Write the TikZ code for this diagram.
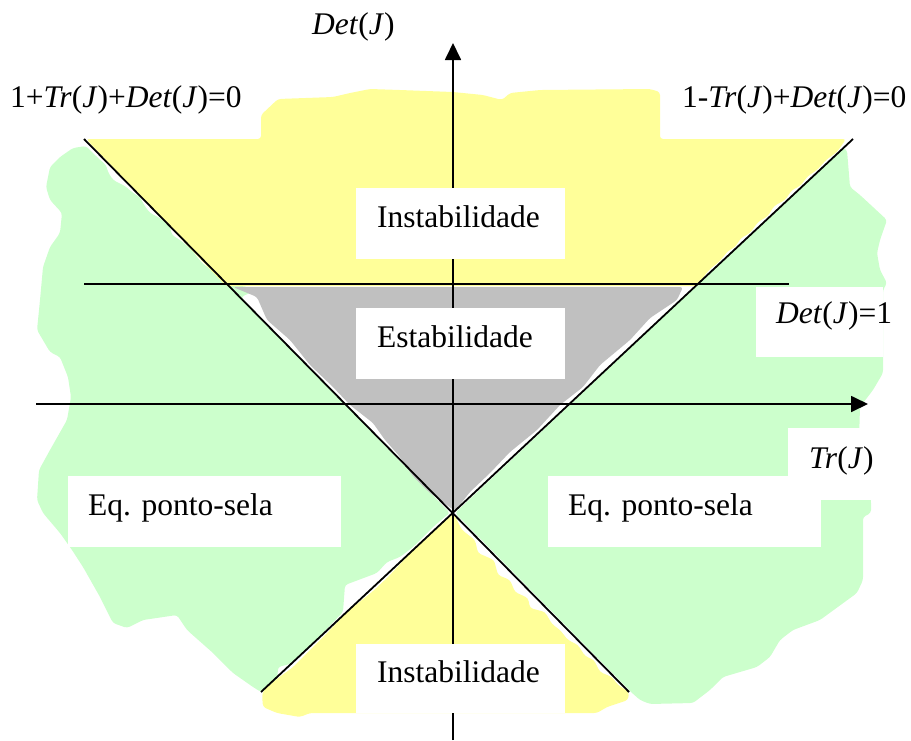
\documentclass[tikz,border=0pt]{standalone}
\usepackage{fontspec}
\setmainfont{Liberation Serif}
\usetikzlibrary{arrows.meta}
\definecolor{regYellow}{HTML}{FFFF99}
\definecolor{regGreen}{HTML}{CCFFCC}
\definecolor{regGrey}{HTML}{C0C0C0}

\begin{document}
\begin{tikzpicture}[x=1pt,y=-1pt,
  thinline/.style={line width=1.8pt},
  axisarrow/.style={line width=1.8pt,-{Triangle[length=17pt,width=16pt]}},
  whitebox/.style={fill=white,draw=none,anchor=north west,inner sep=0pt,outer sep=0pt},
  lbl/.style={font=\fontsize{31.5}{36}\selectfont,inner sep=0pt,anchor=base west},
  blob/.style={draw=none,rounded corners=3pt},
]
\useasboundingbox (0,0) rectangle (911,740);

% ---- stability regions (hand-painted fills) ----
% saddle region, left
\fill[regGreen,blob] (73,148) -- (86,146) -- (98,158) -- (106,165) -- (108,172) -- (113,180)
  -- (125,186) -- (133,193) -- (140,197) -- (144,205) -- (150,213) -- (160,218) -- (170,227)
  -- (172,235) -- (180,240) -- (192,250) -- (197,257) -- (203,264) -- (215,272) -- (222,279)
  -- (228,284) -- (248,287) -- (252,292) -- (241,297) -- (450,513) -- (447,515) -- (433,527)
  -- (413,547) -- (400,557) -- (387,562) -- (377,573) -- (345,585) -- (343,612) -- (316,640)
  -- (290,664) -- (278,667) -- (277,687) -- (261,692) -- (253,687) -- (233,673) -- (213,653)
  -- (187,630) -- (177,615) -- (143,620) -- (127,628) -- (113,623) -- (100,597) -- (83,567)
  -- (72,550) -- (60,533) -- (43,513) -- (37,500) -- (39,470) -- (50,450) -- (67,420)
  -- (71,397) -- (68,377) -- (60,357) -- (50,352) -- (37,330) -- (40,300) -- (43,267)
  -- (50,247) -- (60,233) -- (62,213) -- (50,200) -- (46,187) -- (50,167) -- (60,157) -- cycle;
% saddle region, right
\fill[regGreen,blob] (455,513) -- (843,148) -- (847,150) -- (850,187) -- (860,195) -- (887,220)
  -- (880,240) -- (877,253) -- (880,270) -- (887,283) -- (883,290) -- (883,373) -- (873,390)
  -- (860,407) -- (859,440) -- (871,500) -- (871,513) -- (863,517) -- (863,580) -- (857,593)
  -- (820,620) -- (793,630) -- (780,640) -- (770,657) -- (757,667) -- (723,677) -- (710,690)
  -- (693,703) -- (650,704) -- (640,700) -- (631,692) -- cycle;
% instability region, upper
\fill[regYellow,blob] (86,139) -- (261,139) -- (261,115) -- (278,99) -- (333,97) -- (350,93)
  -- (370,89) -- (400,90) -- (453,92) -- (483,95) -- (502,100) -- (510,93) -- (540,90)
  -- (650,89) -- (660,92) -- (660,139) -- (846,139) -- (837,152) -- (826,160) -- (817,170)
  -- (808,176) -- (800,186) -- (792,190) -- (785,200) -- (774,206) -- (768,216) -- (758,222)
  -- (750,233) -- (741,238) -- (735,247) -- (728,251) -- (719,262) -- (711,268) -- (704,276)
  -- (697,286) -- (226,286) -- cycle;
% instability region, lower
\fill[regYellow,blob] (453,513) -- (456,518) -- (462,530) -- (475,540) -- (478,553) -- (494,560)
  -- (498,575) -- (510,580) -- (515,592) -- (528,598) -- (530,608) -- (545,612) -- (552,624)
  -- (560,630) -- (568,640) -- (578,645) -- (585,656) -- (594,660) -- (600,672) -- (612,677)
  -- (618,685) -- (629,692) -- (628,700) -- (607,707) -- (597,713) -- (310,713) -- (300,717)
  -- (277,713) -- (263,707) -- (262,695) -- (264,690) -- (278,678) -- (292,668) -- (310,650)
  -- (330,630) -- (348,611) -- (372,592) -- (388,577) -- (402,562) -- (415,547) -- (432,532)
  -- (445,520) -- cycle;
% stability region
\fill[regGrey,blob] (233,287) -- (683,287) -- (677,300) -- (650,318) -- (630,340) -- (600,365)
  -- (583,387) -- (560,405) -- (537,430) -- (510,452) -- (490,473) -- (470,492) -- (455,511)
  -- (440,500) -- (430,493) -- (412,475) -- (400,457) -- (385,440) -- (373,423) -- (350,405)
  -- (333,387) -- (310,365) -- (290,340) -- (267,320) -- (257,297) -- cycle;

% ---- end points of the axes and boundary lines ----
\coordinate (vBot) at (453,740);
\coordinate (vTop) at (453,43);
\coordinate (hLeft) at (36,404);
\coordinate (hRight) at (868,404);
\coordinate (detL) at (84,284);
\coordinate (detR) at (789,284);
\coordinate (plusTop) at (84,139);
\coordinate (plusBot) at (629,692);
\coordinate (minusTop) at (853,139);
\coordinate (minusBot) at (261,692);

\draw[axisarrow] (vBot) -- (vTop);
\draw[axisarrow] (hLeft) -- (hRight);
\draw[thinline] (detL) -- (detR);
\draw[thinline] (plusTop) -- (plusBot);
\draw[thinline] (minusTop) -- (minusBot);

% ---- white label panels ----
\node[whitebox,minimum width=209pt,minimum height=71pt] (boxInstTop) at (356,188) {};
\node[whitebox,minimum width=209pt,minimum height=71pt] (boxEst) at (356,308) {};
\node[whitebox,minimum width=273pt,minimum height=71pt] (boxSelaL) at (68,476) {};
\node[whitebox,minimum width=273pt,minimum height=71pt] (boxSelaR) at (548,476) {};
\node[whitebox,minimum width=209pt,minimum height=69pt] (boxInstBot) at (356,644) {};
\node[whitebox,minimum width=127pt,minimum height=70pt] (boxDet) at (756,287) {};
\node[whitebox,minimum width=95pt,minimum height=72pt] (boxTr) at (788,428) {};

% ---- texts ----
\node[lbl] (tDet) at (312,34) {\textit{Det}(\textit{J})};
\node[lbl] (tPlus) at (10,107) {1+\textit{Tr}(\textit{J})+\textit{Det}(\textit{J})=0};
\node[lbl] (tMinus) at (682,107) {1-\textit{Tr}(\textit{J})+\textit{Det}(\textit{J})=0};
\node[lbl] (tInstTop) at (377,227) {Instabilidade};
\node[lbl] (tEst) at (377,347) {Estabilidade};
\node[lbl] (tSelaL) at (88,515) {Eq. ponto-sela};
\node[lbl] (tSelaR) at (568,515) {Eq. ponto-sela};
\node[lbl] (tInstBot) at (377,682) {Instabilidade};
\node[lbl] (tDetOne) at (776,323) {\textit{Det}(\textit{J})=1};
\node[lbl] (tTr) at (809,468) {\textit{Tr}(\textit{J})};
\end{tikzpicture}
\end{document}
